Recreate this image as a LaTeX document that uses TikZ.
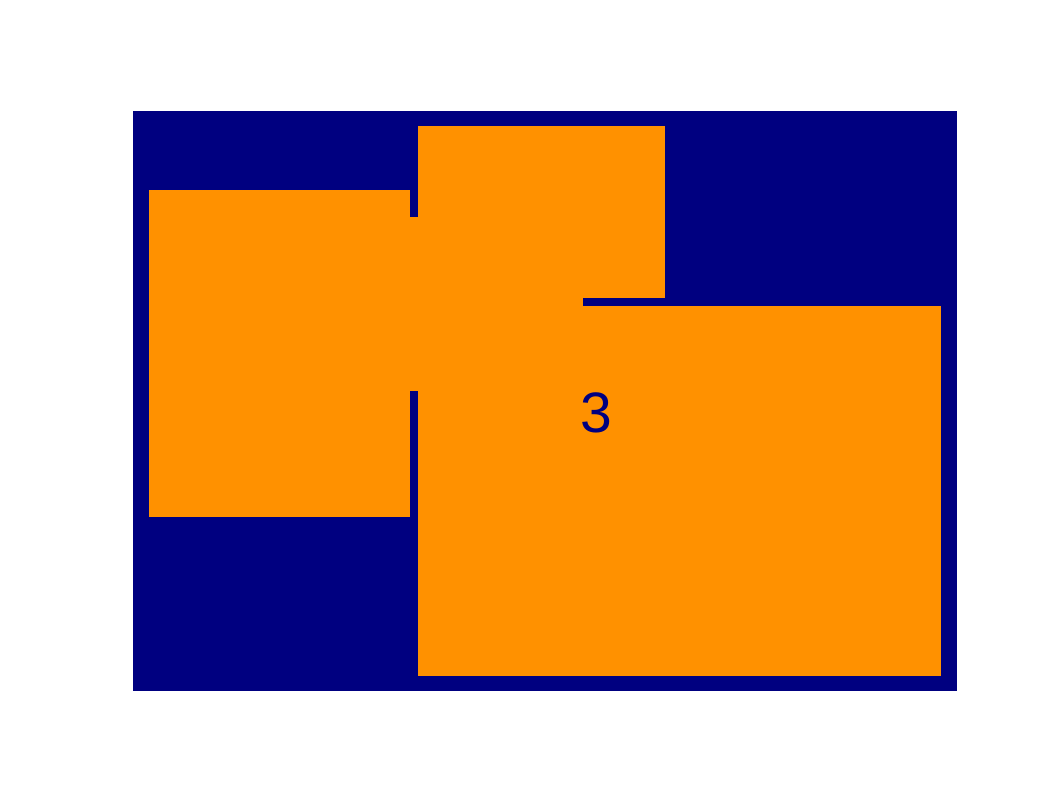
\documentclass[tikz,border=0pt]{standalone}
\usepackage{fontspec}
\setmainfont{Liberation Sans}
\definecolor{navyc}{HTML}{000080}
\definecolor{orangec}{HTML}{FF9100}
\begin{document}
\begin{tikzpicture}[x=1pt,y=-1pt,
  block/.style={fill=orangec,draw=none}]
\useasboundingbox (0,0) rectangle (1062,796);
\fill[white] (0,0) rectangle (1062,796);
\fill[navyc] (133,111) rectangle (957,691);
\fill[block] (149,190) rectangle (410,517);
\fill[block] (410,217) rectangle (583,391);
\fill[block] (418,126) rectangle (665,298);
\fill[block] (418,306) rectangle (941,676);
\node[text=navyc,font=\fontsize{57}{57}\selectfont,inner sep=0pt] (lbl) at (596,413) {3};
\end{tikzpicture}
\end{document}
